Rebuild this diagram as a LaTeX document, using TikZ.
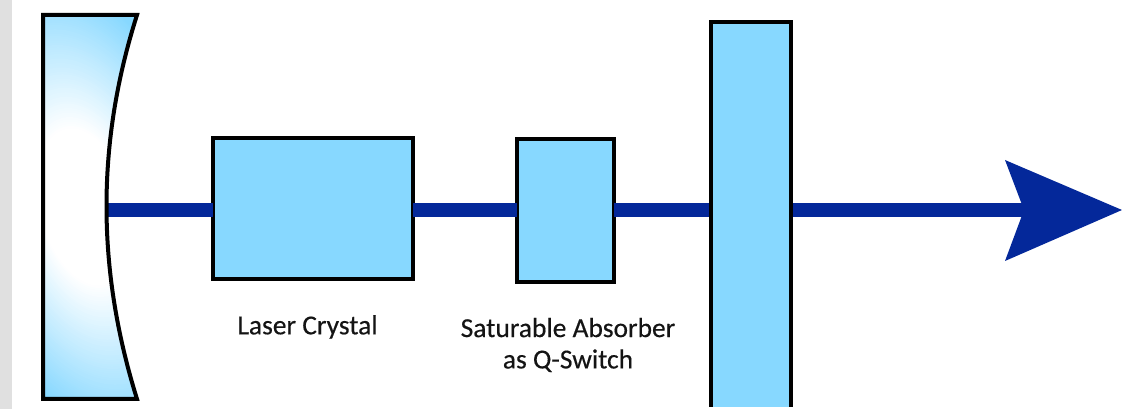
\documentclass[tikz,border=0pt]{standalone}
\usepackage{fontspec}
\setmainfont{Carlito}
\newfontfamily\capfont[FakeBold=0.35]{Carlito}
\definecolor{glass}{HTML}{87D8FF}
\definecolor{beam}{HTML}{04289A}
\definecolor{strip}{HTML}{E0E0E0}
\begin{document}
\begin{tikzpicture}[x=0.75pt,y=-0.75pt,
  optic/.style={draw=black,line width=3pt,fill=glass,inner sep=0pt,outer sep=0pt,line join=miter},
  beamline/.style={draw=beam,line width=10.5pt},
  caption/.style={text=black!92,font=\capfont\fontsize{20.6}{23.5}\selectfont,align=center,inner sep=0pt}]
\useasboundingbox (0,0) rectangle (1122,409);
\fill[white] (0,0) rectangle (1122,409);
\fill[strip] (0,0) rectangle (12,409);
% output arrow head tip and notch
\coordinate (tip) at (1122,210);
\coordinate (notch) at (1024,210);
\coordinate (mirrorvertex) at (106.5,210);
% optical elements
\node[optic,minimum width=150pt,minimum height=105.75pt] (crystal) at (313,208.5) {};
\node[optic,minimum width=72.75pt,minimum height=107.25pt] (absorber) at (565.5,210.5) {};
\node[fill=glass,inner sep=0pt,outer sep=0pt,minimum width=60pt,minimum height=288.75pt] (coupler) at (751,214.5) {};
% beam
\draw[beamline] (mirrorvertex) -- (crystal.west |- mirrorvertex);
\draw[beamline] (crystal.east |- mirrorvertex) -- (absorber.west |- mirrorvertex);
\draw[beamline] (absorber.east |- mirrorvertex) -- (coupler.west |- mirrorvertex);
\draw[beamline] (coupler.east |- mirrorvertex) -- (notch);
\fill[beam] (tip) -- (1005,160) -- (notch) -- (1005,261) -- cycle;
% coupler outline: open at the bottom
\draw[black,line width=3pt,line join=miter] (coupler.south west) -- (coupler.north west) -- (coupler.north east) -- (coupler.south east);
% curved mirror: glass with a white glow in the middle
\begin{scope}
\clip (43,15) -- (137,15) .. controls (116.7,78.7) and (106.5,142.3) .. (106.5,206) .. controls (106.5,270) and (116.7,334) .. (137,399) -- (43,399) -- cycle;
\fill[glass] (30,0) rectangle (150,409);
\begin{scope}[shift={(85,207)},rotate=14.5]
\foreach \t in {100,99,...,35}{
  \pgfmathtruncatemacro{\mixval}{(\t-35)*100/65}
  \fill[glass!\mixval!white] (0,0) ellipse [x radius=1.3*\t, y radius=2.3*\t];
}
\end{scope}
\end{scope}
\draw[black,line width=3pt,line join=miter] (43,15) -- (137,15) .. controls (116.7,78.7) and (106.5,142.3) .. (106.5,206) .. controls (106.5,270) and (116.7,334) .. (137,399) -- (43,399) -- cycle;
% captions
\node[caption] (lc) at (307.5,327) {Laser Crystal};
\node[caption] (sa) at (568,345) {Saturable Absorber\\as Q-Switch};
\end{tikzpicture}
\end{document}
